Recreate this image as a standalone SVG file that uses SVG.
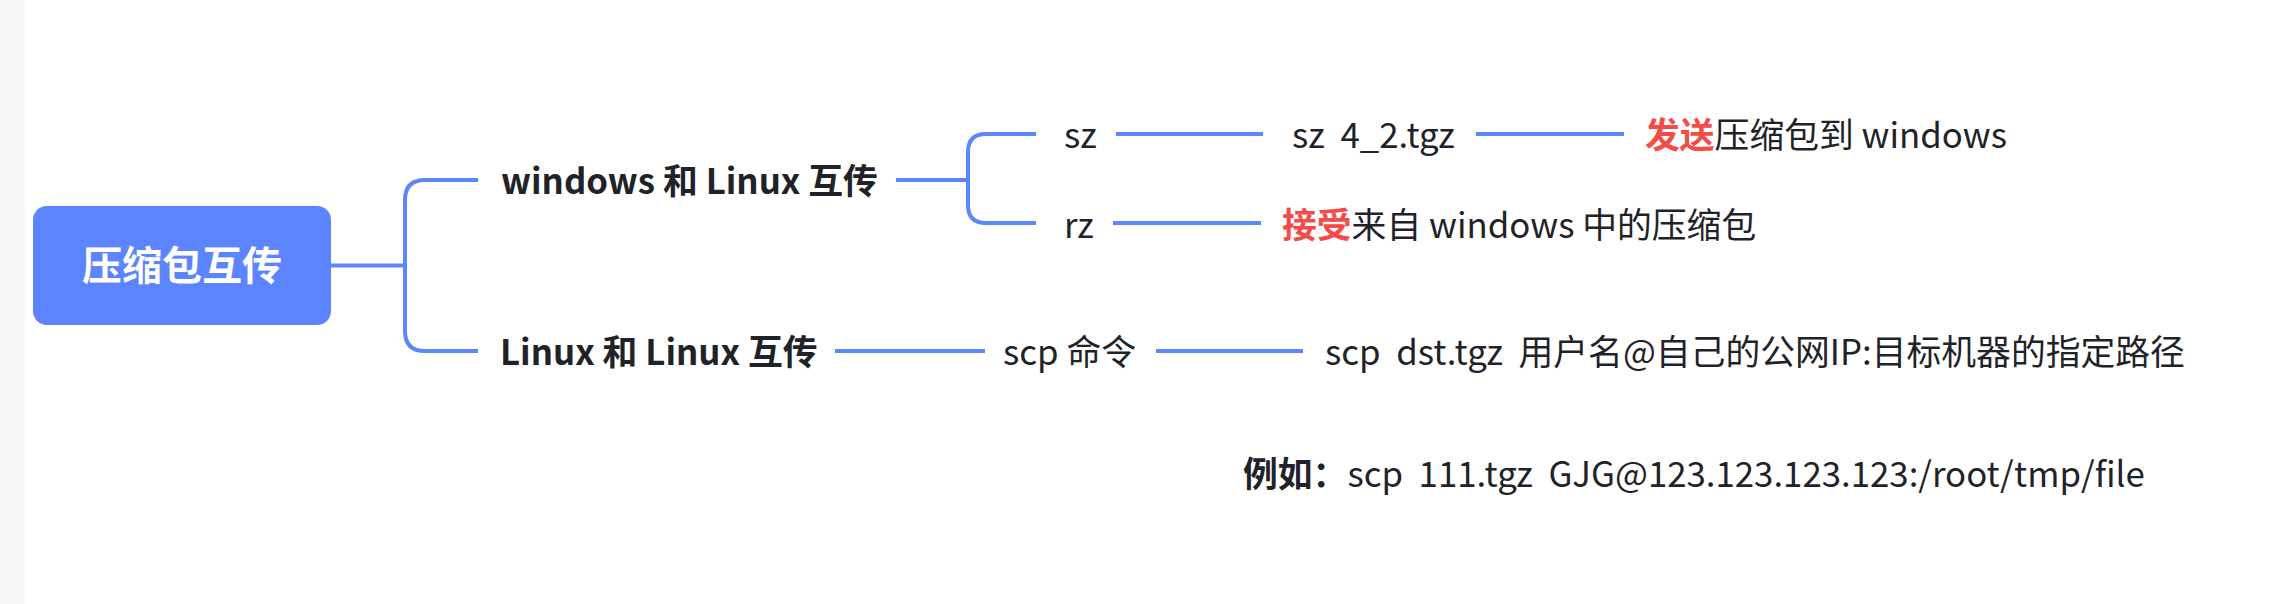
<svg xmlns="http://www.w3.org/2000/svg" width="2273" height="604" viewBox="0 0 2273 604">
<style>
.t{font-family:"Noto Sans CJK SC","Noto Sans",sans-serif;font-size:34.8px;fill:#1F2329;white-space:pre}
.b{font-weight:bold}
.r{fill:#F54A45;font-weight:bold}
.root{font-family:"Noto Sans CJK SC","Noto Sans",sans-serif;font-size:40px;font-weight:bold;fill:#FFFFFF}
.c{fill:none;stroke:#5B87FE;stroke-width:4;stroke-linecap:butt}
</style>
<rect x="0" y="0" width="2273" height="604" fill="#FFFFFF"/>
<rect x="0" y="0" width="25" height="604" fill="#F8F8F8"/>
<g id="connectors">
<path class="c" d="M331 265.5 H405"/>
<path class="c" d="M478 180 H425 Q405 180 405 200 V331 Q405 351 425 351 H478"/>
<path class="c" d="M896 180 H968"/>
<path class="c" d="M1036 134 H986 Q968 134 968 152 V205 Q968 223 986 223 H1036"/>
<path class="c" d="M1116 134 H1263"/>
<path class="c" d="M1476 134 H1624"/>
<path class="c" d="M1113 223 H1261"/>
<path class="c" d="M835 351 H985"/>
<path class="c" d="M1156 351 H1303"/>
</g>
<g id="root">
<rect x="33" y="206" width="298" height="119" rx="14" fill="#5B84FE"/>
<text class="root" x="182" y="280" text-anchor="middle">压缩包互传</text>
</g>
<g id="n-win-linux"><text class="t b" x="501" y="194">windows 和 Linux 互传</text></g>
<g id="n-linux-linux"><text class="t b" x="500" y="365">Linux 和 Linux 互传</text></g>
<g id="n-sz"><text class="t" x="1064" y="148">sz</text></g>
<g id="n-sz-cmd"><text class="t" x="1292" y="148">sz  4_2.tgz</text></g>
<g id="n-send"><text class="t" x="1645" y="148"><tspan class="r">发送</tspan>压缩包到 windows</text></g>
<g id="n-rz"><text class="t" x="1064" y="238">rz</text></g>
<g id="n-recv"><text class="t" x="1282" y="238"><tspan class="r">接受</tspan>来自 windows 中的压缩包</text></g>
<g id="n-scp"><text class="t" x="1003" y="365">scp 命令</text></g>
<g id="n-scp-cmd"><text class="t" x="1325" y="365">scp  dst.tgz  用户名@自己的公网IP:目标机器的指定路径</text></g>
<g id="n-example"><text class="t" x="1243" y="487"><tspan class="b">例如：</tspan>scp  111.tgz  GJG@123.123.123.123:/root/tmp/file</text></g>
</svg>
